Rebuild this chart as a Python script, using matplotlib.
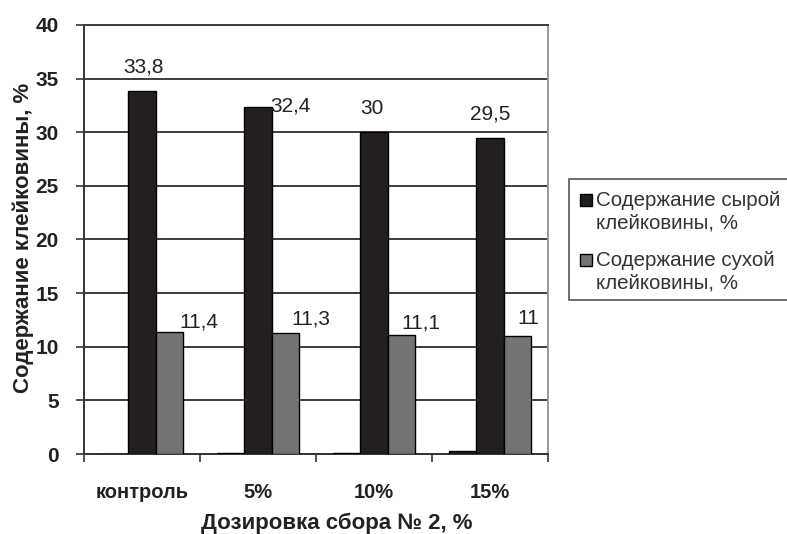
import matplotlib
matplotlib.use("Agg")
import matplotlib.pyplot as plt
from matplotlib.patches import Rectangle
import numpy as np

plt.rcParams['font.family'] = ['Liberation Sans', 'DejaVu Sans']

categories = ["контроль", "5%", "10%", "15%"]
other_values = [0.0, 0.1, 0.1, 0.3]
raw_gluten = [33.8, 32.4, 30.0, 29.5]
dry_gluten = [11.4, 11.3, 11.1, 11.0]
raw_label = "Содержание сырой\nклейковины, %"
dry_label = "Содержание сухой\nклейковины, %"
x_title = "Дозировка сбора № 2, %"
y_title = "Содержание клейковины, %"
y_ticks = [0, 5, 10, 15, 20, 25, 30, 35, 40]

# value label offsets in pixels (dx, dy) from the top of each bar
raw_offsets = [(1, 24), (32, 1), (-2, 24), (0, 24)]
dry_offsets = [(29, 10), (25, 14), (19, 12), (11, 18)]

dark = "#231f20"
grey = "#747477"
text_col = "#222222"

W, H = 787, 534
fig = plt.figure(figsize=(W / 100, H / 100), dpi=100)
ax = fig.add_axes([84 / W, 1 - 454 / H, (548 - 84) / W, (454 - 25) / H])

x = np.arange(len(categories))
w = 0.236
ax.bar(x - w, other_values, w, color=dark, edgecolor="black", linewidth=1, zorder=3)
ax.bar(x, raw_gluten, w, color=dark, edgecolor="black", linewidth=1, zorder=3)
ax.bar(x + w, dry_gluten, w, color=grey, edgecolor="black", linewidth=1, zorder=3)


def fmt(v):
    return f"{v:g}".replace(".", ",")


for xi, v, (dx, dy) in zip(x, raw_gluten, raw_offsets):
    ax.annotate(fmt(v), (xi, v), xytext=(dx, dy), textcoords="offset pixels",
                ha="center", va="center", fontsize=15, color=text_col, zorder=5)
for xi, v, (dx, dy) in zip(x + w, dry_gluten, dry_offsets):
    ax.annotate(fmt(v), (xi, v), xytext=(dx, dy), textcoords="offset pixels",
                ha="center", va="center", fontsize=15, color=text_col, zorder=5)

ax.set_xlim(-0.5, len(categories) - 0.5)
ax.set_ylim(0, 40)
ax.set_yticks(y_ticks)
ax.set_yticklabels([str(t) for t in y_ticks], fontsize=15, fontweight="bold", color=text_col)
ax.set_xticks(x)
ax.set_xticklabels(categories, fontsize=14.5, fontweight="bold", color=text_col)
ax.tick_params(axis="x", which="major", length=0, pad=21)
ax.set_xticks(np.arange(-0.5, len(categories), 1.0), minor=True)
ax.tick_params(axis="x", which="minor", length=6, width=1.2, color="#333333", direction="out")
ax.tick_params(axis="y", length=6, width=1.2, color="#333333", direction="out", pad=12)

ax.yaxis.grid(True, color="#3c3c3c", linewidth=1.4, zorder=0)
ax.set_axisbelow(True)
for side in ("left", "bottom"):
    ax.spines[side].set_color("#333333")
    ax.spines[side].set_linewidth(1.4)
ax.spines["top"].set_color("#3c3c3c")
ax.spines["top"].set_linewidth(1.4)
ax.spines["right"].set_color("#999999")
ax.spines["right"].set_linewidth(1.4)

fig.text(337 / W, 1 - 523 / H, x_title, ha="center", va="center",
         fontsize=16, fontweight="bold", color=text_col)
fig.text(23 / W, 1 - 238 / H, y_title, ha="center", va="center", rotation=90,
         fontsize=16, fontweight="bold", color=text_col)

# legend box with square swatches, each entry on two lines
fig.patches.append(Rectangle((569 / W, 1 - 300 / H), 240 / W, 121 / H,
                             transform=fig.transFigure, facecolor="white",
                             edgecolor="#555555", linewidth=1.2))
for (label, colr), y0 in zip([(raw_label, dark), (dry_label, grey)], [200, 260]):
    fig.patches.append(Rectangle((580 / W, 1 - (y0 + 6) / H), 12 / W, 12 / H,
                                 transform=fig.transFigure, facecolor=colr,
                                 edgecolor="black", linewidth=1))
    for i, line in enumerate(label.split("\n")):
        fig.text(596 / W, 1 - (y0 + 23 * i) / H, line, ha="left", va="center",
                 fontsize=14.8, color="#333333")

fig.savefig("out.png", dpi=100)
